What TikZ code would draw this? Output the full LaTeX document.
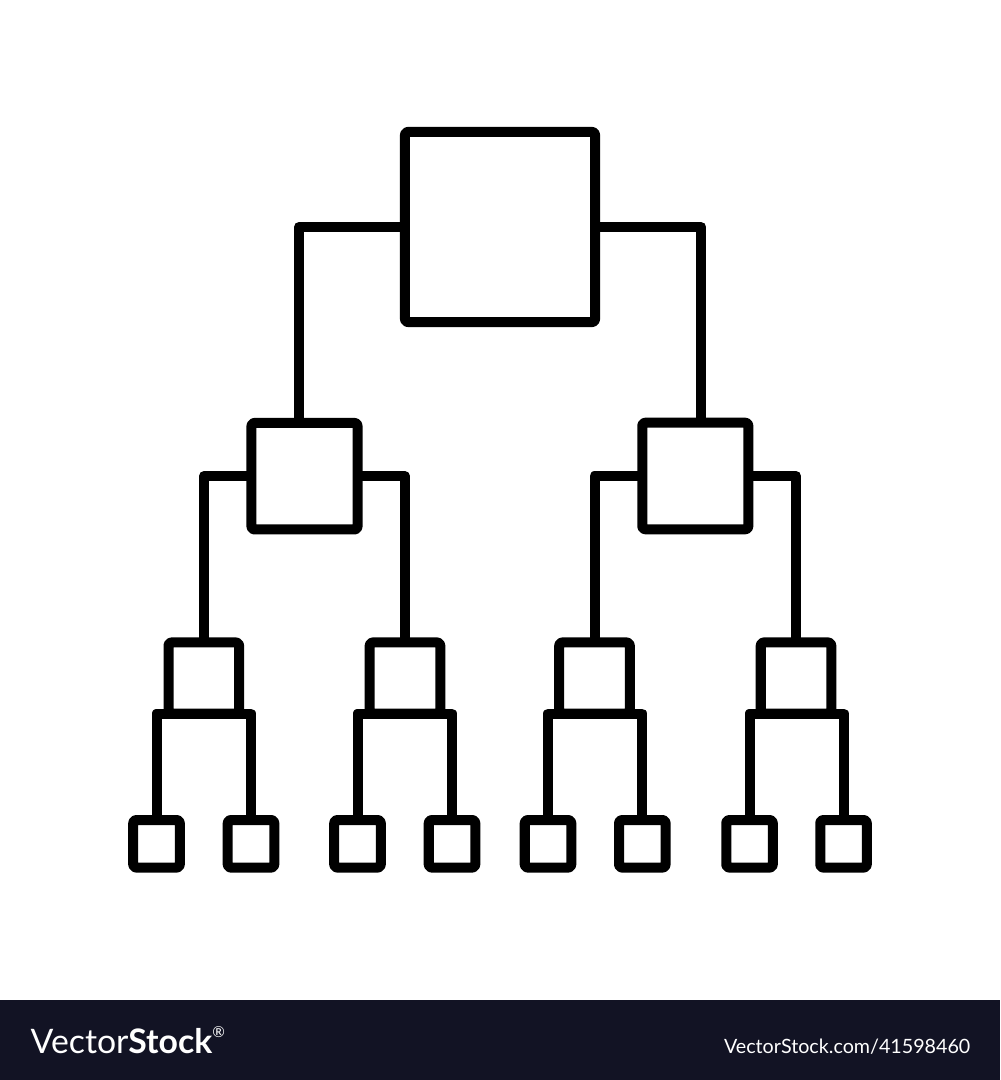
\documentclass[tikz,border=0pt]{standalone}
\usepackage{fontspec}
\newfontfamily\wmfont{Lato}
\definecolor{bannerbg}{RGB}{18,19,36}
\begin{document}
\begin{tikzpicture}[x=0.01cm,y=-0.01cm,
  box/.style={draw=black,line width=0.1cm,outer sep=0pt,inner sep=0pt,rounded corners=0.8pt,line join=round},
  topbox/.style={box,minimum width=1.9cm,minimum height=1.9cm},
  midbox/.style={box,minimum width=1.06cm,minimum height=1.065cm},
  lowbox/.style={box,minimum width=0.705cm,minimum height=0.71cm},
  leafbox/.style={box,minimum width=0.465cm,minimum height=0.475cm},
  wire/.style={line width=0.1cm,line join=round,line cap=butt},
  wmtext/.style={text=white,inner sep=0pt},
]
\useasboundingbox (0,0) rectangle (1000,1080);
\fill[white] (0,0) rectangle (1000,1000);
\fill[bannerbg] (0,1000) rectangle (1000,1080);

% level 1
\node[topbox] (top) at (500,227) {};
% level 2
\node[midbox] (ml) at (304.5,476.2) {};
\node[midbox] (mr) at (695.3,476) {};
% level 3
\node[lowbox] (l1) at (203.8,678) {};
\node[lowbox] (l2) at (405,678) {};
\node[lowbox] (l3) at (594.5,678) {};
\node[lowbox] (l4) at (796,678) {};
% leaves
\node[leafbox] (f1) at (156.5,843.8) {};
\node[leafbox] (f2) at (251,843.8) {};
\node[leafbox] (f3) at (357.5,843.8) {};
\node[leafbox] (f4) at (452,843.8) {};
\node[leafbox] (f5) at (548,843.8) {};
\node[leafbox] (f6) at (642.3,843.8) {};
\node[leafbox] (f7) at (749.5,843.8) {};
\node[leafbox] (f8) at (843.5,843.8) {};

% connectors level 1 -> 2
\draw[wire] (top.west) -| ([xshift=-0.055cm]ml.north);
\draw[wire] (top.east) -| ([xshift=0.06cm]mr.north);
% level 2 -> 3
\draw[wire] (ml.west) -| (l1.north);
\draw[wire] (ml.east) -| (l2.north);
\draw[wire] (mr.west) -| (l3.north);
\draw[wire] (mr.east) -| (l4.north);
% level 3 -> leaves
\draw[wire] (f1.north) |- (l1.south) -| (f2.north);
\draw[wire] (f3.north) |- (l2.south) -| (f4.north);
\draw[wire] (f5.north) |- (l3.south) -| (f6.north);
\draw[wire] (f7.north) |- (l4.south) -| (f8.north);

% watermark banner
\node[wmtext,anchor=base west,font=\wmfont\fontsize{9.6pt}{11pt}\selectfont] (logo) at (30,1053)
  {Vector\textbf{Stock}\raisebox{0.9ex}{\fontsize{4.3pt}{5pt}\selectfont ®}};
\node[wmtext,anchor=base east,font=\wmfont\fontsize{5.6pt}{7pt}\selectfont] (url) at (971,1053)
  {VectorStock.com/41598460};
\end{tikzpicture}
\end{document}
